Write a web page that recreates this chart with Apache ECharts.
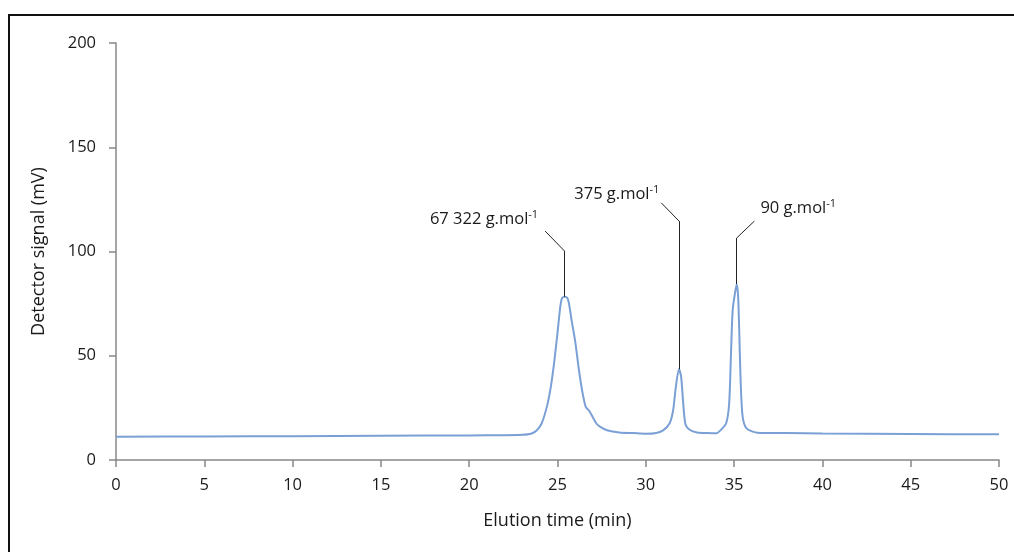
<!DOCTYPE html>
<html>
<head>
<meta charset="utf-8">
<script src="https://cdn.jsdelivr.net/npm/echarts@6/dist/echarts.min.js"></script>
<style>
  html, body { margin: 0; padding: 0; background: #fff; }
  #chart { position: absolute; left: 0; top: 0; width: 1014px; height: 552px; }
  #frame { position: absolute; left: 8px; top: 14px; width: 1100px; height: 600px;
           border-left: 2px solid #111; border-top: 2px solid #111; pointer-events: none; }
</style>
</head>
<body>
<div id="chart"></div>
<div id="frame"></div>
<script>
// Elution time (min) and detector signal (mV) of the SEC trace
const elutionTime = [
  0, 5, 10, 15, 20, 22, 23, 23.5, 23.8, 24.1, 24.4, 24.6, 24.8, 25.0, 25.15, 25.25, 25.4, 25.55,
  25.65, 25.8, 26.0, 26.2, 26.4, 26.6, 26.8, 27.0, 27.2, 27.4, 27.8, 28.5, 29.3, 30.0, 30.6,
  31.0, 31.35, 31.55, 31.7, 31.88, 32.0, 32.12, 32.25, 32.5, 32.9, 33.5, 34.0, 34.25, 34.55,
  34.72, 34.82, 34.92, 35.05, 35.15, 35.23, 35.3, 35.37, 35.48, 35.7, 36.3, 38, 40, 45, 50
];
const detectorSignal = [
  11.2, 11.3, 11.4, 11.6, 11.8, 11.9, 12.1, 12.6, 14.0, 17.5, 25.6, 34, 46, 61, 73, 77.5, 78.3, 77.8,
  75, 67, 57, 44, 33, 25.5, 23.5, 20.5, 17.5, 16, 14.3, 13.2, 12.9, 12.6, 13.0,
  14.3, 17.6, 24, 35, 43.6, 40, 27, 17, 14.4, 13.2, 12.9, 12.8, 14.4, 17.6,
  27, 50, 72, 80, 84.4, 78, 59, 38, 21, 15.2, 13.1, 12.9, 12.7, 12.5, 12.3
];

// Annotated peaks: apex time and molar mass label
const peakTimes = [25.4, 31.88, 35.15];
const peakMass = ['67 322', '375', '90'];

const xTicks = [0, 5, 10, 15, 20, 25, 30, 35, 40, 45, 50];
const yTicks = [0, 50, 100, 150, 200];

const traceData = elutionTime.map((t, i) => [t, detectorSignal[i]]);
const signalAt = t => detectorSignal[elutionTime.indexOf(t)];

// Leader geometry (data units): elbow height, end offset in time and signal
const leaders = [
  { elbow: 100.2, dt: -1.1, dv: 9.6, pos: 'left', offset: [-3, -12] },
  { elbow: 114.6, dt: -1.0, dv: 8.7, pos: 'left', offset: [2, -9] },
  { elbow: 106.5, dt: 1.0, dv: 8.1, pos: 'right', offset: [2, -13] }
];

const leaderSegments = [];
const leaderLabels = [];
peakTimes.forEach((t, i) => {
  const L = leaders[i];
  const top = signalAt(t);
  leaderSegments.push([{ coord: [t, top] }, { coord: [t, L.elbow] }]);
  leaderSegments.push([{ coord: [t, L.elbow] }, { coord: [t + L.dt, L.elbow + L.dv] }]);
  leaderLabels.push({
    coord: [t + L.dt, L.elbow + L.dv],
    label: {
      show: true,
      position: L.pos,
      distance: 4,
      offset: L.offset,
      formatter: '{m|' + peakMass[i] + ' g.mol}{s|-1}'
    }
  });
});

const FONT = 'Open Sans';
const chart = echarts.init(document.getElementById('chart'), null, { renderer: 'canvas' });
chart.setOption({
  animation: false,
  backgroundColor: '#fff',
  grid: { left: 116, right: 15, top: 43, bottom: 92 },
  xAxis: {
    type: 'value',
    min: xTicks[0], max: xTicks[xTicks.length - 1], interval: 5,
    name: 'Elution time (min)',
    nameLocation: 'middle', nameGap: 52,
    nameTextStyle: { fontFamily: FONT, fontSize: 18, color: '#1a1a1a' },
    axisLine: { lineStyle: { color: '#888', width: 1.5 } },
    axisTick: { show: true, length: 7, lineStyle: { color: '#888', width: 1.5 } },
    axisLabel: { margin: 17, fontFamily: FONT, fontSize: 16.5, color: '#1a1a1a' },
    splitLine: { show: false }
  },
  yAxis: {
    type: 'value',
    min: yTicks[0], max: yTicks[yTicks.length - 1], interval: 50,
    name: 'Detector signal (mV)',
    nameLocation: 'middle', nameGap: 68, nameRotate: 90,
    nameTextStyle: { fontFamily: FONT, fontSize: 18, color: '#1a1a1a' },
    axisLine: { show: true, lineStyle: { color: '#888', width: 1.5 } },
    axisTick: { show: true, length: 7, lineStyle: { color: '#888', width: 1.5 } },
    axisLabel: { margin: 20, fontFamily: FONT, fontSize: 16.5, color: '#1a1a1a' },
    splitLine: { show: false }
  },
  series: [{
    type: 'line',
    data: traceData,
    smooth: 0.25,
    showSymbol: false,
    symbol: 'none',
    lineStyle: { color: '#7aa0d6', width: 2 },
    markLine: {
      silent: true,
      symbol: 'none',
      label: { show: false },
      lineStyle: { color: '#222', width: 1, type: 'solid' },
      data: leaderSegments
    },
    markPoint: {
      silent: true,
      symbol: 'circle',
      symbolSize: 0,
      label: {
        rich: {
          m: { fontFamily: FONT, fontSize: 16.5, color: '#1a1a1a' },
          s: { fontFamily: FONT, fontSize: 11, color: '#1a1a1a', verticalAlign: 'top', padding: [0, 0, 9, 0] }
        }
      },
      data: leaderLabels
    }
  }]
});
</script>
</body>
</html>
